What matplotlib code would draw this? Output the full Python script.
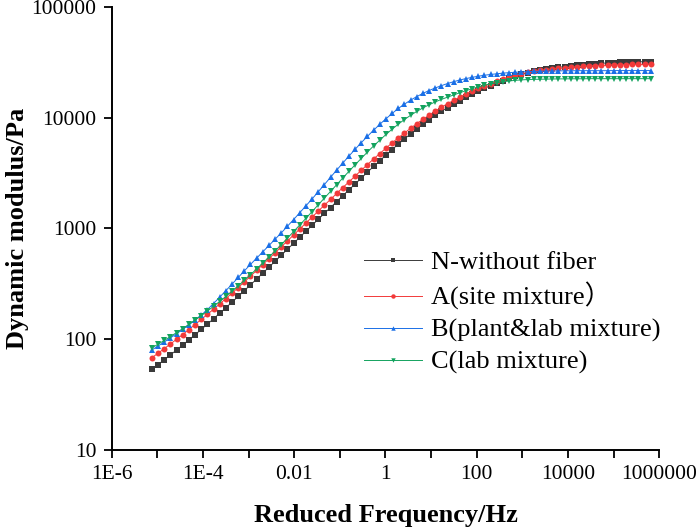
import numpy as np
import matplotlib
matplotlib.use("Agg")
import matplotlib.pyplot as plt

# reduced frequency, stored as log10(Hz) (even spacing of the master curve)
log_freq = [-5.12, -4.985, -4.85, -4.715, -4.58, -4.445, -4.31, -4.175, -4.04, -3.905,
            -3.77, -3.635, -3.5, -3.365, -3.23, -3.095, -2.96, -2.825, -2.69, -2.555,
            -2.42, -2.285, -2.15, -2.015, -1.88, -1.745, -1.61, -1.475, -1.34, -1.205,
            -1.07, -0.935, -0.8, -0.665, -0.53, -0.395, -0.26, -0.125, 0.01, 0.145,
            0.28, 0.415, 0.55, 0.685, 0.82, 0.955, 1.09, 1.225, 1.36, 1.495,
            1.63, 1.765, 1.9, 2.035, 2.17, 2.305, 2.44, 2.575, 2.71, 2.845,
            2.98, 3.115, 3.25, 3.385, 3.52, 3.655, 3.79, 3.925, 4.06, 4.195,
            4.33, 4.465, 4.6, 4.735, 4.87, 5.005, 5.14, 5.275, 5.41, 5.545,
            5.68, 5.815]

# dynamic modulus (Pa)
n_without_fiber = [53.6, 59.0, 65.2, 72.1, 80.0, 88.7, 98.6, 109.9, 122.5, 136.8,
                   153.1, 171.4, 192.3, 216.3, 243.2, 274.2, 309.7, 349.1, 395.4, 446.7,
                   505.8, 572.8, 648.6, 734.5, 831.8, 941.9, 1067, 1208, 1368, 1545,
                   1750, 1977, 2234, 2523, 2851, 3221, 3631, 4083, 4592, 5152,
                   5768, 6427, 7145, 7925, 8730, 9594, 10470, 11400, 12330, 13270,
                   14260, 15280, 16290, 17340, 18410, 19450, 20510, 21580, 22590, 23610,
                   24550, 25470, 26240, 26860, 27420, 27990, 28440, 28910, 29380, 29720,
                   30060, 30480, 30760, 30970, 31190, 31410, 31550, 31700, 31840, 31920,
                   31990, 32060]

a_site = [68.2, 74.8, 82.2, 90.6, 99.8, 110.2, 122.2, 135.7, 150.7, 167.5,
          186.6, 208.0, 232.8, 260.6, 292.4, 328.9, 370.7, 417.8, 472.1, 533.3,
          602.6, 682.3, 770.9, 873.0, 988.6, 1119, 1265, 1432, 1622, 1828,
          2070, 2339, 2636, 2972, 3350, 3776, 4236, 4742, 5309, 5916,
          6577, 7261, 8017, 8831, 9661, 10540, 11460, 12420, 13370, 14320,
          15310, 16330, 17360, 18370, 19360, 20320, 21280, 22260, 23170, 24040,
          24830, 25650, 26240, 26730, 27100, 27480, 27800, 28120, 28440, 28710,
          28970, 29240, 29440, 29580, 29790, 29920, 29990, 30130, 30200, 30270,
          30270, 30340]

b_plant_lab = [80.0, 86.9, 94.4, 102.8, 112.2, 122.7, 134.9, 148.6, 164.8, 185.4,
               209.9, 239.9, 274.2, 314.1, 360.6, 414.0, 473.2, 539.5, 615.2, 701.5,
               799.8, 912.0, 1047, 1202, 1387, 1600, 1845, 2143, 2489, 2897,
               3365, 3899, 4508, 5188, 5957, 6792, 7709, 8710, 9772, 10910,
               12110, 13240, 14390, 15490, 16560, 17580, 18540, 19450, 20320, 21130,
               21880, 22540, 23120, 23660, 24150, 24550, 24890, 25230, 25470, 25700,
               25880, 26000, 26120, 26240, 26300, 26360, 26420, 26490, 26490, 26550,
               26550, 26550, 26550, 26550, 26550, 26610, 26610, 26610, 26610, 26610,
               26610, 26610]

c_lab = [83.6, 90.2, 97.5, 105.7, 114.8, 124.7, 136.1, 148.9, 163.3, 179.5,
         198.2, 219.3, 243.2, 271.0, 302.7, 339.6, 381.9, 431.5, 487.5, 552.1,
         626.6, 714.5, 816.6, 937.6, 1074, 1233, 1419, 1633, 1879, 2158,
         2483, 2858, 3281, 3758, 4295, 4898, 5559, 6266, 7047, 7870,
         8730, 9616, 10500, 11380, 12250, 13060, 13870, 14620, 15310, 16030,
         16790, 17540, 18280, 18970, 19590, 20140, 20650, 21090, 21430, 21730,
         21930, 22080, 22180, 22230, 22280, 22340, 22390, 22390, 22440, 22440,
         22440, 22490, 22490, 22490, 22490, 22490, 22490, 22490, 22490, 22490,
         22490, 22490]

labels = ["N-without fiber", "A(site mixture\uff09", "B(plant&lab mixture)", "C(lab mixture)"]
xtick_labels = ["1E-6", "", "1E-4", "", "0.01", "", "1", "", "100", "", "10000", "", "1000000"]
ytick_labels = ["10", "100", "1000", "10000", "100000"]

plt.rcParams["font.family"] = ["Liberation Serif", "Noto Sans CJK SC"]

freq = 10 ** np.array(log_freq)

fig = plt.figure(figsize=(6.99, 5.30), dpi=100)
ax = fig.add_axes([0.160, 0.151, 0.783, 0.836])

series = [n_without_fiber, a_site, b_plant_lab, c_lab]
colors = ["#3a3a3a", "#f23a3a", "#1a6fe6", "#13a35e"]
markers = ["s", "o", "^", "v"]
for vals, lab, col, mk in zip(series, labels, colors, markers):
    ax.plot(freq, vals, color=col, lw=0.7, marker=mk, ms=4.3, mew=0, label=lab)

ax.set_xscale("log")
ax.set_yscale("log")
ax.set_xlim(1e-6, 1e6)
ax.set_ylim(10, 1e5)

ax.set_xticks([10.0 ** e for e in range(-6, 7)])
ax.set_xticklabels(xtick_labels)
ax.set_yticks([10.0 ** e for e in range(1, 6)])
ax.set_yticklabels(ytick_labels)
ax.minorticks_off()

for side in ["top", "right"]:
    ax.spines[side].set_visible(False)
for side in ["left", "bottom"]:
    ax.spines[side].set_linewidth(1.4)
ax.tick_params(direction="out", length=6, width=1.3, labelsize=15.5, pad=5)

ax.set_xlabel("Reduced Frequency/Hz", fontsize=19, fontweight="bold", labelpad=14)
ax.set_ylabel("Dynamic modulus/Pa", fontsize=19, fontweight="bold", labelpad=2)

leg = ax.legend(loc="upper left", bbox_to_anchor=(0.46, 0.45), frameon=False, fontsize=19,
                handlelength=2.2, handletextpad=0.35, labelspacing=0.31,
                borderpad=0, borderaxespad=0)
for h in leg.get_lines():
    h.set_markersize(3.2)

fig.savefig("out.png", dpi=100)
